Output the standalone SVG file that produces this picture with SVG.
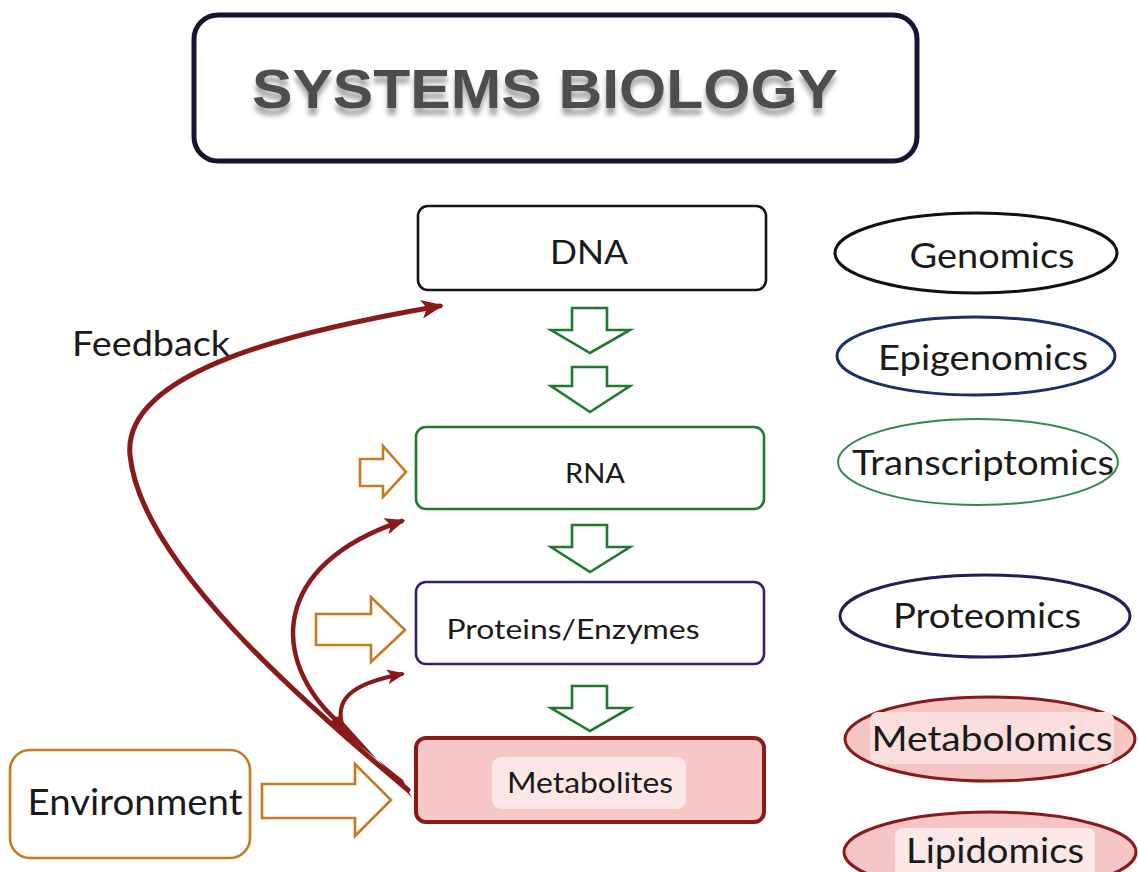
<svg xmlns="http://www.w3.org/2000/svg" width="1138" height="872" viewBox="0 0 1138 872">
  <style>
    .lbl { font-family: Lato, "Open Sans", "Liberation Sans", sans-serif; fill: #1a1a1a; text-anchor: middle; }
    .box { fill: #ffffff; stroke-width: 2.6; }
    .oval { stroke-width: 3; }
    .down { fill: #ffffff; stroke: #1f7a2e; stroke-width: 2.6; stroke-linejoin: miter; }
    .side { fill: #ffffff; stroke: #c87a20; stroke-width: 2.6; stroke-linejoin: miter; }
    .fb { fill: none; stroke: #8a1a1a; stroke-linecap: round; }
  </style>
  <defs>
    <marker id="fbHead" viewBox="0 0 12 10" refX="10" refY="5" markerWidth="4.5" markerHeight="4.5" orient="auto" markerUnits="strokeWidth">
      <path d="M0,0 L12,5 L0,10 L3,5 Z" fill="#8a1a1a"/>
    </marker>
    <filter id="titleShadow" x="-5%" y="-30%" width="110%" height="180%">
      <feGaussianBlur in="SourceAlpha" stdDeviation="2.5"/>
      <feOffset dx="0" dy="7" result="b"/>
      <feComponentTransfer><feFuncA type="linear" slope="0.35"/></feComponentTransfer>
      <feMerge><feMergeNode/><feMergeNode in="SourceGraphic"/></feMerge>
    </filter>
  </defs>

  <rect width="1138" height="872" fill="#ffffff"/>

  <!-- Title -->
  <g id="title">
    <rect x="194" y="15" width="723" height="146" rx="24" fill="#ffffff" stroke="#1b1230" stroke-width="5"/>
    <text x="545" y="108" font-family="'Liberation Sans', Arial, sans-serif" font-weight="bold" font-size="56" fill="#4d4d4d" text-anchor="middle" textLength="586" lengthAdjust="spacingAndGlyphs" filter="url(#titleShadow)">SYSTEMS BIOLOGY</text>
  </g>

  <!-- Layer nodes -->
  <g id="dna">
    <rect class="box" x="418" y="206" width="348" height="84" rx="10" stroke="#151515"/>
    <text class="lbl" x="589" y="264" font-size="32" textLength="78" lengthAdjust="spacingAndGlyphs">DNA</text>
  </g>
  <g id="rna">
    <rect class="box" x="416" y="427" width="348" height="82" rx="10" stroke="#1f7a2e"/>
    <text class="lbl" x="595" y="483" font-size="27" textLength="60" lengthAdjust="spacingAndGlyphs">RNA</text>
  </g>
  <g id="proteins">
    <rect class="box" x="416" y="582" width="348" height="82" rx="10" stroke="#3a1c6c"/>
    <text class="lbl" x="573" y="639" font-size="26" textLength="253" lengthAdjust="spacingAndGlyphs">Proteins/Enzymes</text>
  </g>
  <g id="metabolites">
    <rect x="416" y="738" width="348" height="84" rx="10" fill="#f8c8c8" stroke="#8a1a1a" stroke-width="4"/>
    <rect x="492" y="757" width="194" height="52" rx="9" fill="#fde6e6"/>
    <text class="lbl" x="590" y="793" font-size="28" textLength="166" lengthAdjust="spacingAndGlyphs">Metabolites</text>
  </g>
  <g id="environment">
    <rect x="10" y="750" width="240" height="108" rx="20" fill="#ffffff" stroke="#c87a20" stroke-width="2.6"/>
    <text class="lbl" x="135" y="815" font-size="36" textLength="215" lengthAdjust="spacingAndGlyphs">Environment</text>
  </g>
  <g id="feedback-label">
    <text class="lbl" x="151" y="356" font-size="34" textLength="158" lengthAdjust="spacingAndGlyphs">Feedback</text>
  </g>

  <!-- Omics ovals -->
  <g id="genomics">
    <ellipse class="oval" cx="976" cy="253" rx="141" ry="40" fill="#ffffff" stroke="#111111"/>
    <text class="lbl" x="992" y="268" font-size="35" textLength="165" lengthAdjust="spacingAndGlyphs">Genomics</text>
  </g>
  <g id="epigenomics">
    <ellipse class="oval" cx="976" cy="356" rx="139" ry="39" fill="#ffffff" stroke="#1b2f6a"/>
    <text class="lbl" x="983" y="370" font-size="35" textLength="210" lengthAdjust="spacingAndGlyphs">Epigenomics</text>
  </g>
  <g id="transcriptomics">
    <ellipse cx="978" cy="462" rx="140" ry="43" fill="#ffffff" stroke="#2e8b4e" stroke-width="2"/>
    <text class="lbl" x="983" y="475" font-size="35" textLength="262" lengthAdjust="spacingAndGlyphs">Transcriptomics</text>
  </g>
  <g id="proteomics">
    <ellipse class="oval" cx="985" cy="616" rx="145" ry="41" fill="#ffffff" stroke="#2a1a5a"/>
    <text class="lbl" x="987" y="628" font-size="35" textLength="188" lengthAdjust="spacingAndGlyphs">Proteomics</text>
  </g>
  <g id="metabolomics">
    <ellipse class="oval" cx="990" cy="739" rx="145" ry="42" fill="#f6c6c6" stroke="#8a1a1a"/>
    <rect x="870" y="712" width="244" height="52" rx="8" fill="#fbdede"/>
    <text class="lbl" x="992" y="751" font-size="35" textLength="241" lengthAdjust="spacingAndGlyphs">Metabolomics</text>
  </g>
  <g id="lipidomics">
    <ellipse class="oval" cx="990" cy="852" rx="146" ry="40" fill="#f6c6c6" stroke="#8a1a1a"/>
    <rect x="895" y="828" width="200" height="50" rx="8" fill="#fde8e8"/>
    <text class="lbl" x="995" y="863" font-size="35" textLength="178" lengthAdjust="spacingAndGlyphs">Lipidomics</text>
  </g>

  <!-- Connectors -->
  <g id="connectors">
    <!-- flow between layers -->
    <path class="down" d="M572,308 H607 V330 H630 L590,353 L551,330 H572 Z"/>
    <path class="down" d="M572,367 H607 V386 H630 L590,412 L551,386 H572 Z"/>
    <path class="down" d="M572,525 H607 V547 H630 L590,572 L551,547 H572 Z"/>
    <path class="down" d="M572,686 H607 V708 H630 L590,731 L551,708 H572 Z"/>

    <!-- environmental inputs -->
    <path class="side" d="M262,784 H355 V764 L391,800 L355,836 V818 H262 Z"/>
    <path class="side" d="M316,614 H371 V597 L405,630 L371,662 V645 H316 Z"/>
    <path class="side" d="M360,459 H383 V446 L406,472 L383,497 V486 H360 Z"/>

    <!-- feedback from metabolites -->
    <path d="M412,798 L403,780 L330,722 L338,716 Z" fill="#8a1a1a"/>
    <path class="fb" stroke-width="5" d="M408,790 C300,700 140,560 130,455 C122,370 300,330 440,306" marker-end="url(#fbHead)"/>
    <path class="fb" stroke-width="4.5" d="M338,722 C270,660 270,565 402,521" marker-end="url(#fbHead)"/>
    <path class="fb" stroke-width="4" d="M342,724 C334,695 360,682 402,674" marker-end="url(#fbHead)"/>
  </g>
</svg>
